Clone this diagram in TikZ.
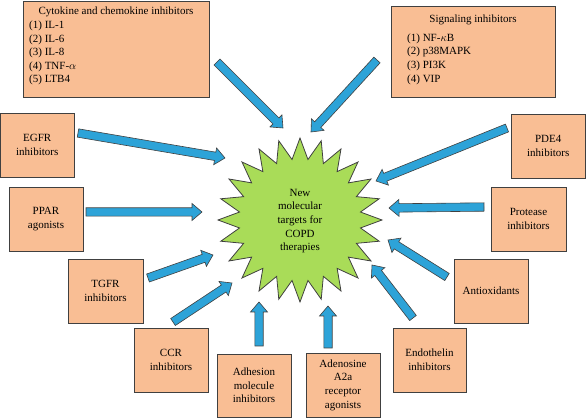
\documentclass[tikz,border=0pt]{standalone}
\usepackage{fontspec}
\setmainfont{Liberation Serif}
\usetikzlibrary{calc}
\definecolor{boxfill}{HTML}{F9BE94}
\definecolor{edge}{HTML}{404040}
\definecolor{arrowblue}{HTML}{2DA3D8}
\definecolor{stargreen}{HTML}{A9DC58}
\newcommand\blockarr[2]{%
  \coordinate (hb) at ($(#2)!10pt!(#1)$);
  \draw[blk] ($(#1)!4.2pt!90:(#2)$) -- ($(hb)!4.2pt!90:(#2)$) -- ($(hb)!8.5pt!90:(#2)$) -- (#2)
    -- ($(hb)!8.5pt!-90:(#2)$) -- ($(hb)!4.2pt!-90:(#2)$) -- ($(#1)!4.2pt!-90:(#2)$) -- cycle;}
\begin{document}
\begin{tikzpicture}[x=1pt,y=-1pt,
  box/.style={draw=edge, fill=boxfill, line width=0.8pt, inner sep=0pt, align=center,
    font=\fontsize{11}{13.6}\selectfont},
  lbl/.style={inner sep=0pt, font=\fontsize{11}{13.6}\selectfont},
  blk/.style={draw=edge, fill=arrowblue, line width=0.6pt, line join=miter},
  starst/.style={draw=edge, fill=stargreen, line width=0.8pt, line join=miter}]
\useasboundingbox (0,0) rectangle (586,419);

% boxes
\node[box, minimum width=186pt, minimum height=96pt] (cyt) at (116,49) {};
\node[lbl, anchor=center] (cytt) at (116,12) {Cytokine and chemokine inhibitors};
\node[lbl, anchor=west, align=left] (cytl) at (29,53) {(1) IL-1\\(2) IL-6\\(3) IL-8\\(4) TNF-$\alpha$\\(5) LTB4};

\node[box, minimum width=164pt, minimum height=91pt] (sig) at (473,51.5) {};
\node[lbl] (sigt) at (473,20) {Signaling inhibitors};
\node[lbl, anchor=west, align=left] (sigl) at (407,59) {(1) NF-$\kappa$B\\(2) p38MAPK\\(3) PI3K\\(4) VIP};

\node[box, minimum width=73.5pt, minimum height=64pt] (egfr) at (37.25,145) {EGFR\\inhibitors};
\node[box, minimum width=74pt, minimum height=64pt] (ppar) at (46,219) {PPAR\\agonists};
\node[box, minimum width=75pt, minimum height=64pt] (tgfr) at (105.5,291) {TGFR\\inhibitors};
\node[box, minimum width=74pt, minimum height=64pt] (ccr) at (171,360) {CCR\\inhibitors};
\node[box, minimum width=74pt, minimum height=63pt] (adh) at (254,385.5) {Adhesion\\molecule\\inhibitors};
\node[box, minimum width=74pt, minimum height=64pt] (ade) at (343,385) {Adenosine\\A2a\\receptor\\agonists};
\node[box, minimum width=73pt, minimum height=64pt] (endo) at (429.5,360) {Endothelin\\inhibitors};
\node[box, minimum width=74pt, minimum height=64pt] (anti) at (491,291) {Antioxidants};
\node[box, minimum width=75pt, minimum height=64pt] (prot) at (528.5,219) {Protease\\inhibitors};
\node[box, minimum width=74.5pt, minimum height=64pt] (pde) at (548.25,146) {PDE4\\inhibitors};

% star
\draw[starst] plot[samples at={0,...,47}]
  ({300+(82-21*mod(\x,2))*cos(90+7.5*\x)}, {220-(82-21*mod(\x,2))*sin(90+7.5*\x)}) -- cycle;
\node[lbl, align=center] (star) at (300,221) {New\\molecular\\targets for\\COPD\\therapies};

% arrow end points
\coordinate (t1) at (217,62);  \coordinate (h1) at (283,128);
\coordinate (t2) at (377,60);  \coordinate (h2) at (311,132);
\coordinate (t3) at (78,133);  \coordinate (h3) at (225,158);
\coordinate (t4) at (86,212);  \coordinate (h4) at (202,212);
\coordinate (t5) at (148,278); \coordinate (h5) at (213,255);
\coordinate (t6) at (173,322); \coordinate (h6) at (232,283);
\coordinate (t7) at (259,346); \coordinate (h7) at (259,302);
\coordinate (t8) at (328,348); \coordinate (h8) at (328,306);
\coordinate (t9) at (413,318); \coordinate (h9) at (372,265);
\coordinate (t10) at (447,277); \coordinate (h10) at (388,240);
\coordinate (t11) at (484,207); \coordinate (h11) at (389,208);
\coordinate (t12) at (507,128); \coordinate (h12) at (376,181);

\blockarr{t1}{h1}
\blockarr{t2}{h2}
\blockarr{t3}{h3}
\blockarr{t4}{h4}
\blockarr{t5}{h5}
\blockarr{t6}{h6}
\blockarr{t7}{h7}
\blockarr{t8}{h8}
\blockarr{t9}{h9}
\blockarr{t10}{h10}
\blockarr{t11}{h11}
\blockarr{t12}{h12}
\end{tikzpicture}
\end{document}
